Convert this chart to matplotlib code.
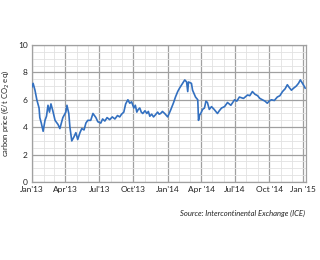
import numpy as np
import pandas as pd
import matplotlib
matplotlib.use('Agg')
import matplotlib.pyplot as plt
import matplotlib.dates as mdates

# carbon price (EUR/t CO2 eq)
dates = ['2013-01-01', '2013-01-04', '2013-01-09', '2013-01-14', '2013-01-20', '2013-01-22',
         '2013-01-26', '2013-01-31', '2013-02-05', '2013-02-09', '2013-02-13', '2013-02-17',
         '2013-02-21', '2013-02-26', '2013-03-04', '2013-03-12',
         '2013-03-17', '2013-03-25', '2013-04-02', '2013-04-05', '2013-04-10', '2013-04-13',
         '2013-04-18', '2013-04-24', '2013-04-29', '2013-05-04', '2013-05-10', '2013-05-15',
         '2013-05-21', '2013-05-26', '2013-05-31', '2013-06-08', '2013-06-14', '2013-06-22',
         '2013-06-27', '2013-07-05', '2013-07-10', '2013-07-16', '2013-07-22', '2013-07-29',
         '2013-08-05', '2013-08-12', '2013-08-19', '2013-08-25', '2013-08-30',
         '2013-09-05', '2013-09-10', '2013-09-16', '2013-09-21', '2013-09-26', '2013-10-02',
         '2013-10-06', '2013-10-10', '2013-10-14', '2013-10-18', '2013-10-22', '2013-10-26',
         '2013-11-01', '2013-11-06', '2013-11-10', '2013-11-14', '2013-11-19', '2013-11-24',
         '2013-11-29', '2013-12-05', '2013-12-09', '2013-12-13', '2013-12-18', '2013-12-24',
         '2014-01-01', '2014-01-09', '2014-01-17',
         '2014-01-22', '2014-01-28', '2014-02-02', '2014-02-10', '2014-02-16', '2014-02-21',
         '2014-02-24', '2014-02-26', '2014-03-06', '2014-03-09', '2014-03-17', '2014-03-23',
         '2014-03-25', '2014-03-28', '2014-03-31', '2014-04-05', '2014-04-10', '2014-04-14',
         '2014-04-18', '2014-04-23', '2014-04-29', '2014-05-06', '2014-05-15', '2014-05-20',
         '2014-05-26', '2014-06-03', '2014-06-11', '2014-06-20', '2014-06-30', '2014-07-06',
         '2014-07-13', '2014-07-24', '2014-08-04', '2014-08-10',
         '2014-08-17', '2014-08-24', '2014-08-31', '2014-09-06', '2014-09-13', '2014-09-20',
         '2014-09-26', '2014-10-01', '2014-10-07', '2014-10-15', '2014-10-23', '2014-10-30',
         '2014-11-06', '2014-11-13', '2014-11-19', '2014-11-24', '2014-11-30', '2014-12-06',
         '2014-12-13', '2014-12-19', '2014-12-24', '2015-01-01', '2015-01-06']
price = [6.95, 7.2, 6.7, 6.0, 5.4, 4.7,
         4.3, 3.7, 4.5, 4.8, 5.6, 5.1,
         5.7, 5.2, 4.5, 4.2,
         3.9, 4.7, 5.1, 5.6, 5.0, 4.0,
         3.0, 3.3, 3.6, 3.1, 3.6, 3.9,
         3.8, 4.3, 4.5, 4.5, 5.0, 4.7,
         4.4, 4.3, 4.6, 4.45, 4.7, 4.55,
         4.75, 4.6, 4.85, 4.75, 4.95,
         5.1, 5.7, 6.0, 5.75, 5.85, 5.4,
         5.6, 5.1, 5.3, 5.4, 5.1, 5.0,
         5.2, 5.0, 5.15, 4.8, 4.95, 4.75,
         4.9, 5.1, 4.95, 5.0, 5.15, 5.0,
         4.75, 5.25, 5.8,
         6.2, 6.6, 6.85, 7.2, 7.45, 7.3,
         6.6, 7.3, 7.2, 6.7, 6.2, 6.0,
         4.5, 4.9, 5.0, 5.3, 5.4, 5.9,
         5.8, 5.3, 5.5, 5.3, 5.0, 5.2,
         5.4, 5.5, 5.8, 5.6, 6.0, 5.9,
         6.2, 6.1, 6.35, 6.3,
         6.6, 6.4, 6.3, 6.1, 6.0, 5.9,
         5.75, 5.9, 6.0, 5.95, 6.2, 6.3,
         6.6, 6.8, 7.1, 6.9, 6.7, 6.85,
         7.0, 7.2, 7.45, 7.1, 6.85]

tick_dates = ['2013-01-01', '2013-04-01', '2013-07-01', '2013-10-01', '2014-01-01',
              '2014-04-01', '2014-07-01', '2014-10-01', '2015-01-01']
tick_labels = ["Jan'13", "Apr'13", "Jul'13", "Oct'13", "Jan'14",
               "Apr '14", "Jul'14", "Oct '14", "Jan '15"]

plt.rcParams['font.family'] = ['Lato', 'DejaVu Sans']

fig = plt.figure(figsize=(3.2, 2.6), dpi=100)
ax = fig.add_axes([0.1, 0.3, 0.856, 0.527])

x = pd.to_datetime(dates)
ax.plot(x, price, color='#3370c0', linewidth=1.2, zorder=3)

ax.set_xlim(pd.Timestamp('2013-01-01'), pd.Timestamp('2015-01-08'))
ax.set_ylim(0, 10)

ax.set_xticks(pd.to_datetime(tick_dates))
ax.set_xticklabels(tick_labels)
ax.xaxis.set_minor_locator(mdates.MonthLocator())
ax.set_yticks([0, 2, 4, 6, 8, 10])
ax.set_yticks(np.arange(0, 10.01, 0.5), minor=True)

ax.grid(which='major', color='#a0a0a0', linewidth=0.9)
ax.grid(which='minor', color='#e2e2e2', linewidth=0.6)
ax.set_axisbelow(True)
ax.tick_params(which='both', length=0, labelsize=6, colors='#222222', pad=3)
for s in ax.spines.values():
    s.set_color('#a0a0a0')
    s.set_linewidth(0.9)

ax.set_ylabel('carbon price (€/t CO$_2$ eq)', fontsize=5.5, color='#222222', labelpad=5)

fig.text(0.953, 0.18, 'Source: Intercontinental Exchange (ICE)', ha='right', va='center',
         fontsize=5.5, style='italic', color='#222222')

fig.savefig('out.png', dpi=100, facecolor='white')
